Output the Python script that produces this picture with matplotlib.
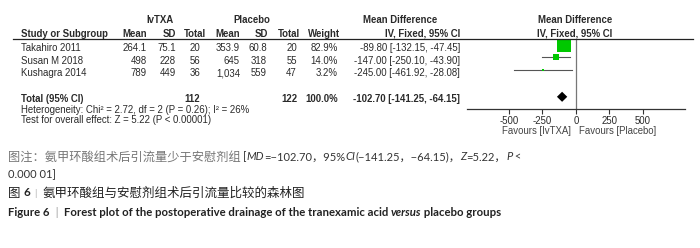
import numpy as np
import matplotlib.pyplot as plt
from matplotlib.lines import Line2D

# data
studies = ['Takahiro 2011', 'Susan M 2018', 'Kushagra 2014']
tx_mean = [264.1, 498, 789]
tx_sd = [75.1, 228, 449]
tx_n = [20, 56, 36]
pl_mean = [353.9, 645, 1034]
pl_sd = [60.8, 318, 559]
pl_n = [20, 55, 47]
weight = [82.9, 14.0, 3.2]
md = [-89.80, -147.00, -245.00]
md_lo = [-132.15, -250.10, -461.92]
md_hi = [-47.45, -43.90, -28.08]
tot_md, tot_lo, tot_hi = -102.70, -141.25, -64.15
tot_n = [112, 122]
xticks = [-500, -250, 0, 250, 500]

W, H = 700, 248
fig = plt.figure(figsize=(7, 2.48), dpi=100)

TFONT = ['Liberation Sans', 'DejaVu Sans']
TC = '#2a2a2a'
FS = 6.9

def fx(x):
    return x / W

def fy(y):
    return 1 - y / H

def t(x, y, s, ha='left', bold=False, **kw):
    fig.text(fx(x), fy(y), s, ha=ha, va='center', family=TFONT, fontsize=kw.pop('size', FS),
             color=kw.pop('color', TC), fontweight='bold' if bold else 'normal', **kw)

row_y = lambda i: 48.3 + 12.5 * i

# header
t(160, 20, 'IvTXA', ha='center', bold=True)
t(252, 20, 'Placebo', ha='center', bold=True)
t(400, 20, 'Mean Difference', ha='center', bold=True)
t(575, 20, 'Mean Difference', ha='center', bold=True)
t(21, 33.7, 'Study or Subgroup', bold=True)
for x, s in [(147, 'Mean'), (176, 'SD'), (206.5, 'Total'), (240, 'Mean'),
             (268, 'SD'), (300, 'Total'), (340, 'Weight'), (460, 'IV, Fixed, 95% CI')]:
    t(x, 33.7, s, ha='right', bold=True)
t(575, 33.7, 'IV, Fixed, 95% CI', ha='center', bold=True)
fig.add_artist(Line2D([fx(13), fx(693)], [fy(39.3), fy(39.3)], color='#222222', lw=0.9))

fmt = lambda v: '{:,g}'.format(v)
for i, s in enumerate(studies):
    y = row_y(i)
    t(21, y, s)
    t(147, y, fmt(tx_mean[i]), ha='right')
    t(176, y, fmt(tx_sd[i]), ha='right')
    t(200, y, str(tx_n[i]), ha='right')
    t(240, y, fmt(pl_mean[i]), ha='right')
    t(267, y, fmt(pl_sd[i]), ha='right')
    t(297, y, str(pl_n[i]), ha='right')
    t(338, y, '%.1f%%' % weight[i], ha='right')
    t(460, y, '%.2f [%.2f, %.2f]' % (md[i], md_lo[i], md_hi[i]), ha='right')

y = 99.3
t(21, y, 'Total (95% CI)', bold=True)
t(200, y, str(tot_n[0]), ha='right', bold=True)
t(297, y, str(tot_n[1]), ha='right', bold=True)
t(338, y, '100.0%', ha='right', bold=True)
t(460, y, '%.2f [%.2f, %.2f]' % (tot_md, tot_lo, tot_hi), ha='right', bold=True)
t(21, 110, 'Heterogeneity: Chi² = 2.72, df = 2 (P = 0.26); I² = 26%')
t(21, 120, 'Test for overall effect: Z = 5.22 (P < 0.00001)')

# forest axes (rows 12.6 px apart, row 0 at y=44.5 px)
x0, x1, ytop, ybot = 466.7, 685, 39.3, 109
r0, dr = 44.5, 12.6
ax = fig.add_axes([fx(x0), fy(ybot), (x1 - x0) / W, (ybot - ytop) / H])
ax.set_xlim(-815, 815)
ax.set_ylim((ybot - r0) / dr, (ytop - r0) / dr)
ax.patch.set_alpha(0)
for sp in ['top', 'left', 'right']:
    ax.spines[sp].set_visible(False)
ax.spines['bottom'].set_color('#333333')
ax.spines['bottom'].set_linewidth(0.9)
ax.axvline(0, color='#777777', lw=0.9)
ax.set_yticks([])
ax.set_xticks(xticks)
ax.set_xticklabels([str(v) for v in xticks], family=TFONT, fontsize=FS, color=TC)
ax.tick_params(axis='x', direction='out', length=3.5, width=0.8, color='#333333', pad=1.5)

for i in range(len(studies)):
    ax.plot([md_lo[i], md_hi[i]], [i, i], color='#555555', lw=0.8)
    ms = 9.6 * np.sqrt(weight[i] / max(weight))
    ax.plot(md[i], i, marker='s', ms=ms, color='#00c800', mec='#00c800', mew=0)

tr = 4.15
ax.fill([tot_lo, tot_md, tot_hi, tot_md], [tr, tr - 0.4, tr, tr + 0.4], color='black', lw=0)

t(571, 130.7, 'Favours [IvTXA]', ha='right', color='#444444')
t(579, 130.7, 'Favours [Placebo]', ha='left', color='#444444')

# caption
CJK = ['Noto Sans CJK SC']
LAT = ['Lato', 'Noto Sans CJK SC']
renderer = fig.canvas.get_renderer()

def line(x, y, pieces, size=8.0, color='#333333'):
    for s, kw in pieces:
        fam = kw.get('family', LAT)
        tx = fig.text(fx(x), fy(y), s, ha='left', va='center', fontsize=kw.get('size', size),
                      family=fam, color=kw.get('color', color),
                      fontweight=kw.get('weight', 'normal'), fontstyle=kw.get('style', 'normal'))
        bb = tx.get_window_extent(renderer)
        x += bb.width

N = {}
I = {'style': 'italic'}
C = {'family': CJK, 'size': 8.8, 'color': '#777777'}
line(8, 157, [('图注：氨甲环酸组术后引流量少于安慰剂组 ', C), ('[', N), ('MD', I),
              ('=−102.70，95%', N), ('CI', I), ('(−141.25，−64.15)，', N), ('Z', I),
              ('=5.22，', N), ('P', I), (' <', N)])
line(8, 175, [('0.000 01]', N)])
line(8, 193, [('图 ', {'family': CJK}), ('6', {'weight': 'bold', 'size': 8.4}),
              ('  |  ', {'color': '#aaaaaa', 'size': 7}),
              ('氨甲环酸组与安慰剂组术后引流量比较的森林图', {'family': CJK})], size=9, color='#222222')
line(8, 212, [('Figure 6', {'weight': 'bold'}), ('  |  ', {'color': '#999999', 'weight': 'normal'}),
              ('Forest plot of the postoperative drainage of the tranexamic acid ', {'weight': 'bold'}),
              ('versus', {'weight': 'bold', 'style': 'italic'}),
              (' placebo groups', {'weight': 'bold'})], size=8.2, color='#222222')

fig.savefig('out.png', dpi=100)
